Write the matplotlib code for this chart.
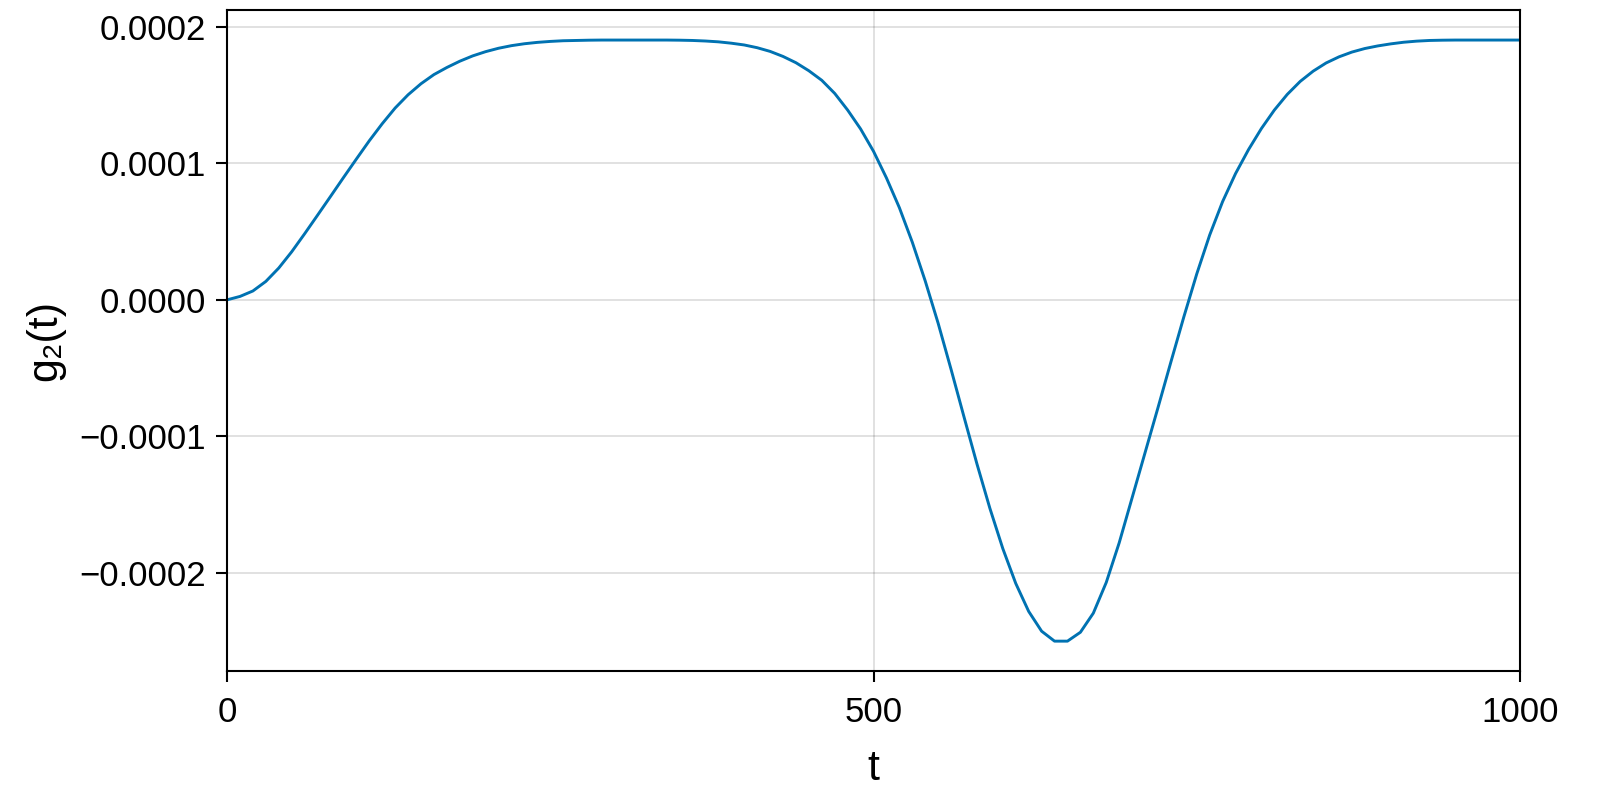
import numpy as np
import matplotlib
matplotlib.use("Agg")
import matplotlib.pyplot as plt
from matplotlib.ticker import FuncFormatter

plt.rcParams['font.family'] = ['Liberation Sans', 'DejaVu Sans']

t = list(range(0, 1001, 10))
g2 = [
    0.0, 0.0000025, 0.0000065, 0.0000135, 0.0000233, 0.0000352, 0.0000484, 0.000062, 0.0000757, 0.0000895,
    0.0001031, 0.0001165, 0.000129, 0.0001405, 0.0001502, 0.0001583, 0.000165, 0.0001702, 0.0001748, 0.0001787,
    0.0001818, 0.0001843, 0.0001862, 0.0001876, 0.0001886, 0.0001893, 0.0001898, 0.00019, 0.0001902, 0.0001903,
    0.0001903, 0.0001903, 0.0001903, 0.0001903, 0.0001903, 0.0001902, 0.00019, 0.0001896, 0.000189, 0.000188,
    0.0001867, 0.0001847, 0.000182, 0.0001783, 0.0001737, 0.0001678, 0.0001608, 0.0001512, 0.000139, 0.0001252,
    0.0001088, 0.0000893, 0.0000675, 0.0000422, 0.0000138, -0.0000172, -0.000051, -0.0000858, -0.0001202, -0.0001527,
    -0.0001822, -0.0002077, -0.0002282, -0.0002427, -0.00025, -0.00025, -0.0002435, -0.0002295, -0.000207, -0.000178,
    -0.000145, -0.000112, -0.000079, -0.0000455, -0.0000125, 0.000019, 0.0000475, 0.000072, 0.0000925, 0.00011,
    0.0001255, 0.000139, 0.0001505, 0.00016, 0.0001675, 0.0001735, 0.000178, 0.0001815, 0.0001841, 0.000186,
    0.0001875, 0.0001887, 0.0001895, 0.00019, 0.0001902, 0.0001903, 0.0001903, 0.0001903, 0.0001903, 0.0001903,
    0.0001903,
]
xticks = [0, 500, 1000]
yticks = [-0.0002, -0.0001, 0.0, 0.0001, 0.0002]


def fmt_y(v, pos):
    if abs(v) < 1e-12:
        return "0.0000"
    return f"{v:.4f}".replace('-', '\u2212')


fig = plt.figure(figsize=(16, 8), dpi=100)
ax = fig.add_axes([0.1419, 0.161, 0.8081, 0.8265])

ax.plot(t, g2, color='#0072B2', lw=2.1)

ax.set_xlim(0, 1000)
lo, hi = min(g2), max(g2)
pad = 0.05 * (hi - lo)
ax.set_ylim(lo - pad, hi + pad)

ax.set_xticks(xticks)
ax.set_yticks(yticks)
ax.yaxis.set_major_formatter(FuncFormatter(fmt_y))
ax.grid(True, color='black', alpha=0.12, lw=1.4)
ax.set_axisbelow(True)

for s in ax.spines.values():
    s.set_linewidth(1.5)
ax.tick_params(direction='out', length=8, width=1.5, labelsize=25, pad=7)
ax.tick_params(axis='x', pad=10)

ax.set_xlabel('t', fontsize=31, labelpad=14)
ax.set_ylabel('g\u2082(t)', fontsize=31, labelpad=10)

fig.savefig('out.png', dpi=100)
